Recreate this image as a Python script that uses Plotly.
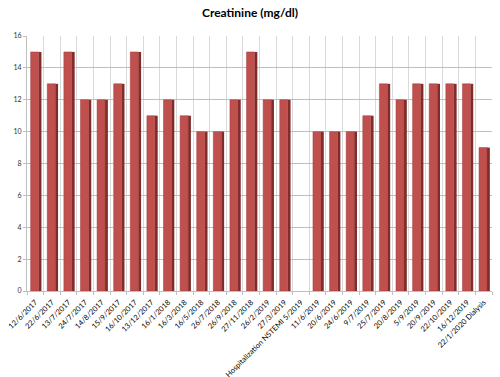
import plotly.graph_objects as go

categories = ["12/6/2017", "22/6/2017", "13/7/2017", "24/7/2017", "14/8/2017", "15/9/2017",
              "16/10/2017", "13/12/2017", "16/1/2018", "16/3/2018", "16/5/2018", "26/7/2018",
              "26/9/2018", "27/11/2018", "26/2/2019", "27/3/2019", "Hospitalization NSTEMI 5/2019",
              "11/6/2019", "20/6/2019", "24/6/2019", "9/7/2019", "25/7/2019", "20/8/2019",
              "5/9/2019", "20/9/2019", "22/10/2019", "16/12/2019", "22/1/2020 Dialysis"]
creatinine = [15, 13, 15, 12, 12, 13, 15, 11, 12, 11, 10, 10, 12, 15, 12, 12, None,
              10, 10, 10, 11, 13, 12, 13, 13, 13, 13, 9]
y_ticks = [0, 2, 4, 6, 8, 10, 12, 14, 16]

fig = go.Figure()
fig.add_trace(go.Bar(x=categories, y=creatinine, width=0.17, offset=0.2,
                     marker=dict(color="#7E2D2B", line=dict(width=0)), hoverinfo="skip"))
fig.add_trace(go.Bar(x=categories, y=creatinine, width=0.48, offset=-0.28,
                     marker=dict(color="#C0504D", line=dict(width=0.5, color="#9E3B38"))))

fig.update_layout(
    width=500, height=377, barmode="overlay", showlegend=False,
    paper_bgcolor="white", plot_bgcolor="white",
    margin=dict(l=27, r=8, t=36, b=86),
    title=dict(text="<b>Creatinine (mg/dl)</b>", x=0.5, xanchor="center", y=0.965, yanchor="middle",
               font=dict(family="Lato", size=12, color="black")),
    font=dict(family="Lato", size=7, color="black"),
)
fig.update_xaxes(type="category", tickangle=-45, tickson="boundaries", showgrid=True,
                 gridcolor="#D9D9D9", gridwidth=1, showline=True, linecolor="#BFBFBF",
                 ticks="outside", ticklen=3, tickcolor="#BFBFBF", ticklabelstandoff=3,
                 tickfont=dict(family="Lato", size=7.5, color="black"), automargin=False)
fig.update_yaxes(range=[0, 16], tickvals=y_ticks, showgrid=True, gridcolor="#BFBFBF",
                 gridwidth=1, showline=True, linecolor="#BFBFBF", ticks="outside", ticklen=3,
                 tickcolor="#BFBFBF", tickfont=dict(family="Lato", size=7, color="#333333"),
                 zeroline=False, automargin=False)

fig.write_html("out.html", config={"displayModeBar": False},
               post_script="document.body.style.margin='0';")
